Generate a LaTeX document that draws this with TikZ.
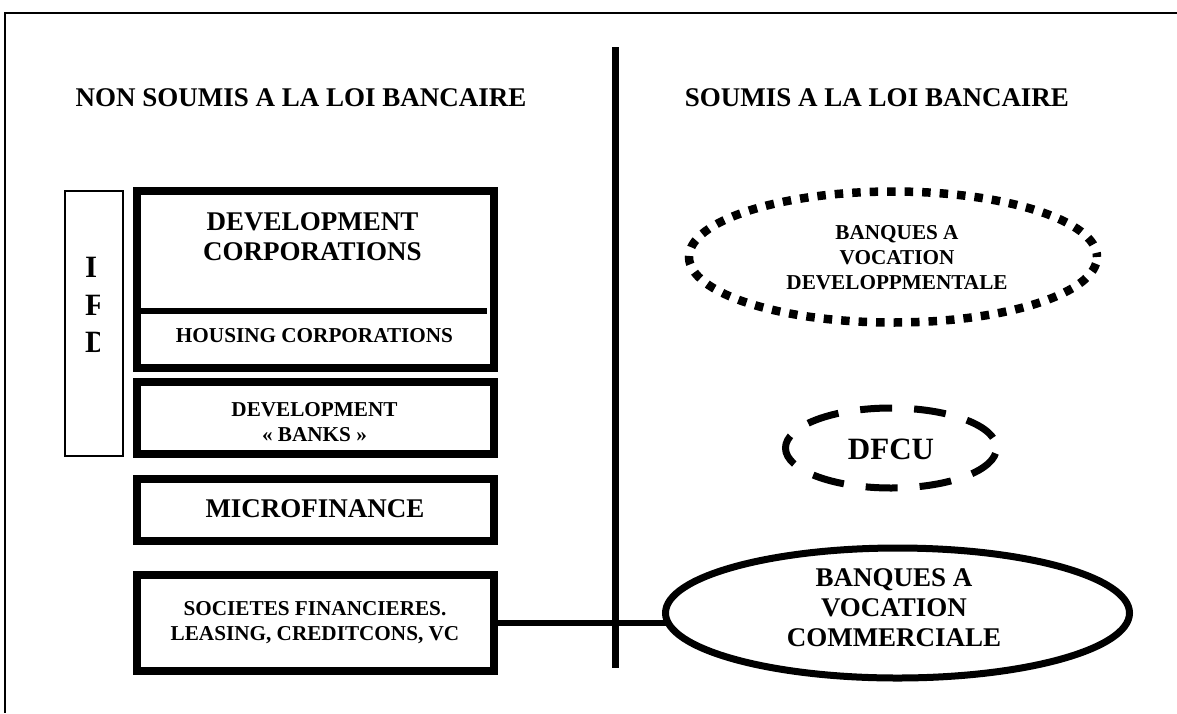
\documentclass[tikz,border=0pt]{standalone}
\usepackage{fontspec}
\setmainfont{Liberation Serif}
\usetikzlibrary{shapes.geometric}
\begin{document}
\begin{tikzpicture}[x=1pt,y=-1pt,
  box/.style={draw, line width=8pt, minimum width=357pt, inner sep=0pt, outer sep=0pt},
  lbl/.style={inner sep=0pt, align=center},
  fbig/.style={font=\fontsize{27}{30}\selectfont\bfseries},
  fsmall/.style={font=\fontsize{21.2}{25}\selectfont\bfseries},
  fhuge/.style={font=\fontsize{31}{37.5}\selectfont\bfseries},
  dottedell/.style={ellipse, draw, line width=8.5pt, dash pattern=on 8.5pt off 9pt, dash phase=4.25pt, inner sep=0pt},
  dashedell/.style={ellipse, draw, line width=7pt, dash pattern=on 32pt off 22pt, dash phase=43pt, inner sep=0pt},
  solidell/.style={ellipse, draw, line width=7pt, inner sep=0pt, outer sep=0pt},
  thickline/.style={line width=7pt},
  conn/.style={line width=6pt}]
\useasboundingbox (0,0) rectangle (1177,713);
% frame
\coordinate (fTR) at (1177,13);
\coordinate (fTL) at (5,13);
\coordinate (fBL) at (5,713);
\draw[line width=2pt] (fTR) -- (fTL) -- (fBL);
% central divider
\coordinate (vTop) at (615,47);
\coordinate (vBot) at (615,668);
\draw[thickline] (vTop) -- (vBot);
% titles
\node[lbl, fbig] (titleL) at (301,97.5) {NON SOUMIS A LA LOI BANCAIRE};
\node[lbl, fbig] (titleR) at (877,97.5) {SOUMIS A LA LOI BANCAIRE};
% IFD box
\node[draw, line width=1.5pt, minimum width=58pt, minimum height=265pt, inner sep=0pt] (ifd) at (94,323.5) {};
\begin{scope}
  \clip (66,192) rectangle (99.5,455);
  \node[anchor=north west, inner sep=0pt, align=left, fhuge] (ifdtext) at (85,257) {I\\F\\D};
\end{scope}
% left boxes
\node[box, minimum height=177pt] (devcorp) at (315.5,279.5) {};
\coordinate (divL) at (137,311);
\coordinate (divR) at (487,311);
\draw[line width=6pt] (divL) -- (divR);
\node[lbl, fbig] (devcorptext) at (312.5,237) {DEVELOPMENT\\CORPORATIONS};
\node[lbl, fsmall] (housing) at (314.5,336) {HOUSING CORPORATIONS};
\node[box, minimum height=72pt] (devbanks) at (315.5,418) {};
\node[lbl, fsmall] (devbankstext) at (314.5,422.5) {DEVELOPMENT\\« BANKS »};
\node[box, minimum height=62pt] (micro) at (315.5,510) {};
\node[lbl, fbig] (microtext) at (315,509) {MICROFINANCE};
\node[box, minimum height=96pt] (societes) at (315.5,623) {};
\node[lbl, fsmall] (societestext) at (315,623) {SOCIETES FINANCIERES.\\LEASING, CREDITCONS, VC};
% right ellipses
\node[dottedell, minimum width=408pt, minimum height=131pt] (bdev) at (893,257) {};
\node[lbl, fsmall] (bdevtext) at (897,258) {BANQUES A\\VOCATION\\DEVELOPPMENTALE};
\node[dashedell, minimum width=211pt, minimum height=80pt] (dfcu) at (891,448) {};
\node[lbl, fhuge] (dfcutext) at (891,449) {DFCU};
\node[solidell, minimum width=464pt, minimum height=130pt] (bcom) at (897.5,613) {};
\node[lbl, fbig] (bcomtext) at (894,608) {BANQUES A\\VOCATION\\COMMERCIALE};
% connector
\draw[conn] (societes.east) -- (societes.east -| bcom.west);
\end{tikzpicture}
\end{document}
